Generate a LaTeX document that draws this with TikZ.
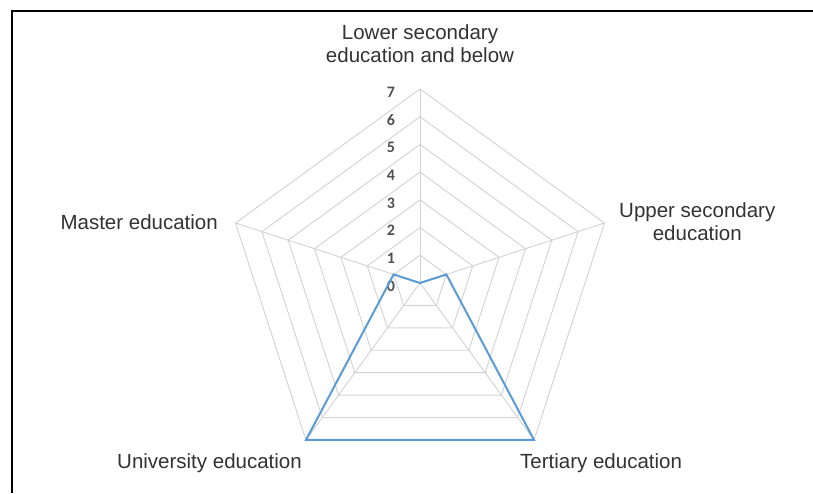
\documentclass[tikz,border=0pt]{standalone}
\usepackage{fontspec}
\setmainfont{Liberation Sans}
\newfontfamily\tickfont{Carlito}
\usepackage{xcolor}
\usepackage{tikz}
\usetikzlibrary{positioning,calc}
\definecolor{gridgray}{RGB}{210,210,210}
\definecolor{seriesblue}{RGB}{91,155,213}
\definecolor{labelgray}{RGB}{50,50,50}
\definecolor{tickgray}{RGB}{80,80,80}
\tikzset{
    axislabel/.style={inner sep=0pt, text=labelgray, font=\fontsize{20.5}{23}\selectfont, align=center},
    ticklabel/.style={inner sep=0pt, text=tickgray, font=\tickfont\bfseries\fontsize{16}{16}\selectfont},
    gridline/.style={draw=gridgray, line width=0.9pt},
    series/.style={draw=seriesblue, line width=2pt, line join=miter}
}

\begin{document}
\begin{tikzpicture}[x=1pt, y=1pt]
    \useasboundingbox (-420,-210) rectangle (393,283);
    % --- Khung ---
    \draw[line width=1.5pt] (393,272) -- (-408,272) -- (-408,-210);
    % --- Trục ---
    \coordinate (O) at (0,0);
    \coordinate (aLow) at (90:194);
    \coordinate (aUp) at (18:194);
    \coordinate (aTer) at (-54:194);
    \coordinate (aUni) at (-126:194);
    \coordinate (aMas) at (162:194);
    \foreach \k [evaluate=\k as \r using \k*27.714] in {1,...,7}
        \draw[gridline] (90:\r) -- (18:\r) -- (-54:\r) -- (-126:\r) -- (162:\r) -- cycle;
    \draw[gridline] (O) -- (aLow);
    \draw[gridline] (O) -- (aUp);
    \draw[gridline] (O) -- (aTer);
    \draw[gridline] (O) -- (aUni);
    \draw[gridline] (O) -- (aMas);
    % --- Nhãn thang đo ---
    \foreach \k in {0,...,7}
        \node[ticklabel] (t\k) at (-29, {\k*27.714-3}) {\k};
    % --- Dữ liệu ---
    \coordinate (dLow) at (90:0);
    \coordinate (dUp) at (18:27.714);
    \coordinate (dTer) at (-54:194);
    \coordinate (dUni) at (-126:194);
    \coordinate (dMas) at (162:27.714);
    \draw[series] (dLow) -- (dUp) -- (dTer) -- (dUni) -- (dMas) -- cycle;
    % --- Nhãn trục ---
    \node[axislabel] (lLow) at (0,239) {Lower secondary\\education and below};
    \node[axislabel, anchor=west] (lUp) at (199,61.5) {Upper secondary\\education};
    \node[axislabel, anchor=west] (lTer) at (100,-180) {Tertiary education};
    \node[axislabel, anchor=east] (lUni) at (-118,-180) {University education};
    \node[axislabel, anchor=east] (lMas) at (-202,61) {Master education};
\end{tikzpicture}
\end{document}
